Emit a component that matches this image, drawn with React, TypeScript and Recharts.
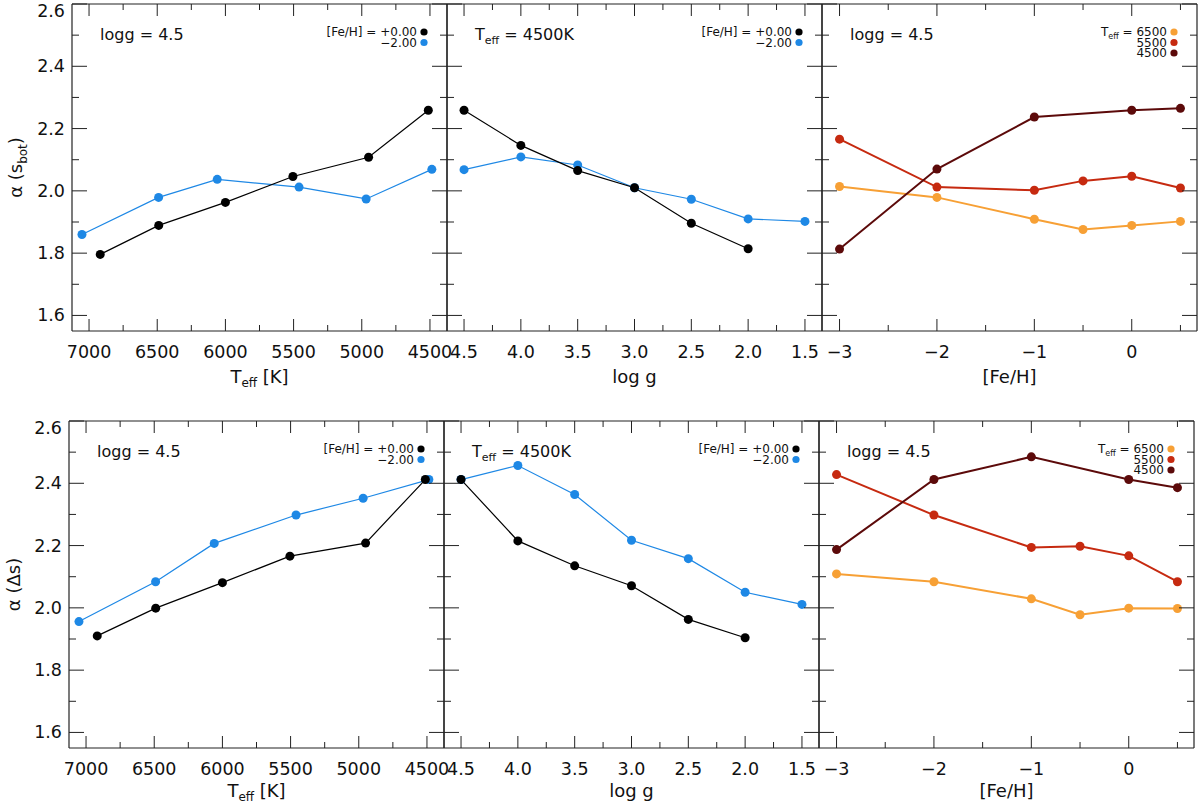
import React from 'react';
import { LineChart, Line, XAxis, YAxis } from 'recharts';

// model grid values
const teffSolar = [6918, 6489, 6000, 5505, 4950, 4512];
const teffPoor = [7052, 6490, 6060, 5460, 4968, 4486];
const loggSolar = [4.5, 4.0, 3.5, 3.0, 2.5, 2.0];
const loggPoor = [4.5, 4.0, 3.5, 3.0, 2.5, 2.0, 1.5];
const fehFull = [-3, -2, -1, -0.5, 0, 0.5];
const fehCool = [-3, -2, -1, 0, 0.5];

// alpha(s_bot)
const sbotTeffSolar = [1.796, 1.889, 1.963, 2.046, 2.108, 2.259];
const sbotTeffPoor = [1.86, 1.979, 2.037, 2.012, 1.974, 2.069];
const sbotLoggSolar = [2.259, 2.146, 2.065, 2.01, 1.896, 1.814];
const sbotLoggPoor = [2.068, 2.109, 2.083, 2.01, 1.973, 1.91, 1.902];
const sbotFeh6500 = [2.014, 1.979, 1.909, 1.876, 1.889, 1.902];
const sbotFeh5500 = [2.166, 2.012, 2.002, 2.032, 2.047, 2.009];
const sbotFeh4500 = [1.813, 2.07, 2.237, 2.259, 2.265];

// alpha(delta s)
const dsTeffSolar = [1.91, 1.999, 2.081, 2.166, 2.208, 2.412];
const dsTeffPoor = [1.956, 2.084, 2.207, 2.298, 2.352, 2.412];
const dsLoggSolar = [2.412, 2.215, 2.135, 2.071, 1.963, 1.904];
const dsLoggPoor = [2.412, 2.457, 2.364, 2.217, 2.158, 2.05, 2.011];
const dsFeh6500 = [2.109, 2.084, 2.029, 1.978, 1.999, 1.998];
const dsFeh5500 = [2.428, 2.298, 2.194, 2.198, 2.167, 2.084];
const dsFeh4500 = [2.187, 2.412, 2.485, 2.412, 2.386];

// axes ticks
const yTicks = [1.6, 1.7, 1.8, 1.9, 2.0, 2.1, 2.2, 2.3, 2.4, 2.5, 2.6];
const teffTicks = [4500, 4750, 5000, 5250, 5500, 5750, 6000, 6250, 6500, 6750, 7000];
const loggTicks = [1.5, 1.75, 2.0, 2.25, 2.5, 2.75, 3.0, 3.25, 3.5, 3.75, 4.0, 4.25, 4.5];
const fehTicks = [-3, -2.5, -2, -1.5, -1, -0.5, 0, 0.5];

const BLACK = '#000000';
const BLUE = '#1e88e5';
const ORANGE = '#f7a035';
const RED = '#c62a10';
const DARK = '#5c0a0a';
const AXIS = '#222222';
const FONT = '"DejaVu Sans", sans-serif';

const W = 375;
const H = 327;
const L = 70;
const R = 30;
const T = 10;
const B = 70;

const zip = (xs: number[], ys: number[]) => xs.map((x, i) => ({ x, y: ys[i] }));
const minus = (v: number) => (v < 0 ? '\u2212' + Math.abs(v) : String(v));

interface AxisCfg {
  domain: [number, number];
  reversed: boolean;
  ticks: number[];
  major: (v: number) => boolean;
  fmt: (v: number) => string;
}

const teffAxis: AxisCfg = {
  domain: [4375, 7125],
  reversed: true,
  ticks: teffTicks,
  major: (v) => v % 500 === 0,
  fmt: (v) => String(v),
};
const loggAxis: AxisCfg = {
  domain: [1.35, 4.65],
  reversed: true,
  ticks: loggTicks,
  major: (v) => Math.round(v * 100) % 50 === 0,
  fmt: (v) => v.toFixed(1),
};
const fehAxis: AxisCfg = {
  domain: [-3.18, 0.67],
  reversed: false,
  ticks: fehTicks,
  major: (v) => Number.isInteger(v),
  fmt: minus,
};

interface Series {
  name: string;
  data: { x: number; y: number }[];
  color: string;
  width: number;
}

const yMajor = (v: number) => Math.round(v * 10) % 2 === 0;

function Panel({ px, py, axis, series, yLabels }: { px: number; py: number; axis: AxisCfg; series: Series[]; yLabels: boolean }) {
  const bottomTick = (p: any) => {
    const v = p.payload.value;
    const mj = axis.major(v);
    return (
      <g>
        <line x1={p.x} x2={p.x} y1={p.y} y2={p.y - (mj ? 12 : 6)} stroke={AXIS} />
        {mj && (
          <text x={p.x} y={p.y + 27} textAnchor="middle" fontSize={17.5} fontFamily={FONT} fill="#111">
            {axis.fmt(v)}
          </text>
        )}
      </g>
    );
  };
  const topTick = (p: any) => {
    const mj = axis.major(p.payload.value);
    return <line x1={p.x} x2={p.x} y1={p.y} y2={p.y + (mj ? 12 : 6)} stroke={AXIS} />;
  };
  const leftTick = (p: any) => {
    const v = p.payload.value;
    const mj = yMajor(v);
    const ly = v > 2.59 ? p.y + 7 : p.y;
    return (
      <g>
        <line x1={p.x} x2={p.x + (mj ? 15 : 7)} y1={p.y} y2={p.y} stroke={AXIS} />
        {yLabels && mj && (
          <text x={p.x - 7} y={ly + 6} textAnchor="end" fontSize={17.5} fontFamily={FONT} fill="#111">
            {v.toFixed(1)}
          </text>
        )}
      </g>
    );
  };
  const rightTick = (p: any) => {
    const mj = yMajor(p.payload.value);
    return <line x1={p.x} x2={p.x - (mj ? 15 : 7)} y1={p.y} y2={p.y} stroke={AXIS} />;
  };

  const common = {
    type: 'number' as const,
    allowDataOverflow: true,
    tickSize: 0,
    tickMargin: 0,
    interval: 0 as const,
    tickLine: false,
    axisLine: { stroke: AXIS, strokeWidth: 1.2 },
  };

  return (
    <div style={{ position: 'absolute', left: px - L, top: py - T }}>
      <LineChart width={W + L + R} height={H + T + B} margin={{ top: 0, right: 0, bottom: 0, left: 0 }}>
        <XAxis
          {...common}
          xAxisId="b"
          orientation="bottom"
          dataKey="x"
          domain={axis.domain}
          reversed={axis.reversed}
          ticks={axis.ticks}
          height={B}
          tick={bottomTick}
        />
        <XAxis
          {...common}
          xAxisId="t"
          orientation="top"
          dataKey="x"
          domain={axis.domain}
          reversed={axis.reversed}
          ticks={axis.ticks}
          height={T}
          tick={topTick}
        />
        <YAxis {...common} yAxisId="l" orientation="left" domain={[1.55, 2.6]} ticks={yTicks} width={L} tick={leftTick} />
        <YAxis {...common} yAxisId="r" orientation="right" domain={[1.55, 2.6]} ticks={yTicks} width={R} tick={rightTick} />
        {series.map((s) => (
          <Line
            key={s.name}
            xAxisId="b"
            yAxisId="l"
            data={s.data}
            dataKey="y"
            type="linear"
            stroke={s.color}
            strokeWidth={s.width}
            dot={{ r: 4.5, fill: s.color, stroke: s.color, strokeWidth: 0 }}
            activeDot={false}
            isAnimationActive={false}
          />
        ))}
      </LineChart>
    </div>
  );
}

function Overlay() {
  const rows = [
    { y0: 4, cols: [72, 447, 822], titleDy: 52 },
    { y0: 421, cols: [69, 444, 819], titleDy: 49 },
  ];
  const txt = { fontFamily: FONT, fill: '#111' };
  return (
    <svg width={1200} height={806} style={{ position: 'absolute', left: 0, top: 0, pointerEvents: 'none' }}>
      {rows.map((r, ri) => {
        const [c1, c2, c3] = r.cols;
        const midY = r.y0 + H / 2;
        const titleY = r.y0 + H + r.titleDy;
        return (
          <g key={ri}>
            {/* y title */}
            <text transform={`translate(${ri === 0 ? 22 : 20}, ${midY}) rotate(-90)`} textAnchor="middle" fontSize={18} {...txt}>
              {ri === 0 ? (
                <>
                  {'\u03b1 (s'}
                  <tspan fontSize={12} dy={5}>bot</tspan>
                  <tspan dy={-5}>)</tspan>
                </>
              ) : (
                '\u03b1 (\u0394s)'
              )}
            </text>
            {/* x titles */}
            <text x={c1 + W / 2} y={titleY} textAnchor="middle" fontSize={18} {...txt}>
              T<tspan fontSize={12} dy={4}>eff</tspan>
              <tspan dy={-4}> [K]</tspan>
            </text>
            <text x={c2 + W / 2} y={titleY} textAnchor="middle" fontSize={18} {...txt}>
              log g
            </text>
            <text x={c3 + W / 2} y={titleY} textAnchor="middle" fontSize={18} {...txt}>
              [Fe/H]
            </text>
            {/* in-panel labels */}
            <text x={c1 + 28} y={r.y0 + 36} fontSize={16} {...txt}>logg = 4.5</text>
            <text x={c2 + 28} y={r.y0 + 36} fontSize={16} {...txt}>
              T<tspan fontSize={11} dy={4}>eff</tspan>
              <tspan dy={-4}> = 4500K</tspan>
            </text>
            <text x={c3 + 28} y={r.y0 + 36} fontSize={16} {...txt}>logg = 4.5</text>
            {/* legends */}
            {[c1, c2].map((c) => (
              <g key={c} fontSize={12} {...txt}>
                <text x={c + W - 30} y={r.y0 + 32} textAnchor="end">[Fe/H] = +0.00</text>
                <circle cx={c + W - 23} cy={r.y0 + 28} r={3.6} fill={BLACK} />
                <text x={c + W - 30} y={r.y0 + 42.5} textAnchor="end">{'\u22122.00'}</text>
                <circle cx={c + W - 23} cy={r.y0 + 38.5} r={3.6} fill={BLUE} />
              </g>
            ))}
            <g fontSize={12} {...txt}>
              <text x={c3 + W - 30} y={r.y0 + 32} textAnchor="end">
                T<tspan fontSize={8} dy={3}>eff</tspan>
                <tspan dy={-3}> = 6500</tspan>
              </text>
              <circle cx={c3 + W - 23} cy={r.y0 + 28} r={3.6} fill={ORANGE} />
              <text x={c3 + W - 30} y={r.y0 + 42.5} textAnchor="end">5500</text>
              <circle cx={c3 + W - 23} cy={r.y0 + 38.5} r={3.6} fill={RED} />
              <text x={c3 + W - 30} y={r.y0 + 53} textAnchor="end">4500</text>
              <circle cx={c3 + W - 23} cy={r.y0 + 49} r={3.6} fill={DARK} />
            </g>
          </g>
        );
      })}
    </svg>
  );
}

export default function App() {
  const top = [
    [
      { name: 'poor', data: zip(teffPoor, sbotTeffPoor), color: BLUE, width: 1.2 },
      { name: 'solar', data: zip(teffSolar, sbotTeffSolar), color: BLACK, width: 1.2 },
    ],
    [
      { name: 'poor', data: zip(loggPoor, sbotLoggPoor), color: BLUE, width: 1.2 },
      { name: 'solar', data: zip(loggSolar, sbotLoggSolar), color: BLACK, width: 1.2 },
    ],
    [
      { name: 't6500', data: zip(fehFull, sbotFeh6500), color: ORANGE, width: 2 },
      { name: 't5500', data: zip(fehFull, sbotFeh5500), color: RED, width: 2 },
      { name: 't4500', data: zip(fehCool, sbotFeh4500), color: DARK, width: 2 },
    ],
  ];
  const bottom = [
    [
      { name: 'poor', data: zip(teffPoor, dsTeffPoor), color: BLUE, width: 1.2 },
      { name: 'solar', data: zip(teffSolar, dsTeffSolar), color: BLACK, width: 1.2 },
    ],
    [
      { name: 'poor', data: zip(loggPoor, dsLoggPoor), color: BLUE, width: 1.2 },
      { name: 'solar', data: zip(loggSolar, dsLoggSolar), color: BLACK, width: 1.2 },
    ],
    [
      { name: 't6500', data: zip(fehFull, dsFeh6500), color: ORANGE, width: 2 },
      { name: 't5500', data: zip(fehFull, dsFeh5500), color: RED, width: 2 },
      { name: 't4500', data: zip(fehCool, dsFeh4500), color: DARK, width: 2 },
    ],
  ];
  const axes = [teffAxis, loggAxis, fehAxis];

  return (
    <div style={{ position: 'absolute', left: 0, top: 0, width: 1200, height: 806, overflow: 'hidden', background: '#fff' }}>
      {top.map((s, i) => (
        <Panel key={'t' + i} px={[72, 447, 822][i]} py={4} axis={axes[i]} series={s} yLabels={i === 0} />
      ))}
      {bottom.map((s, i) => (
        <Panel key={'b' + i} px={[69, 444, 819][i]} py={421} axis={axes[i]} series={s} yLabels={i === 0} />
      ))}
      <Overlay />
    </div>
  );
}
